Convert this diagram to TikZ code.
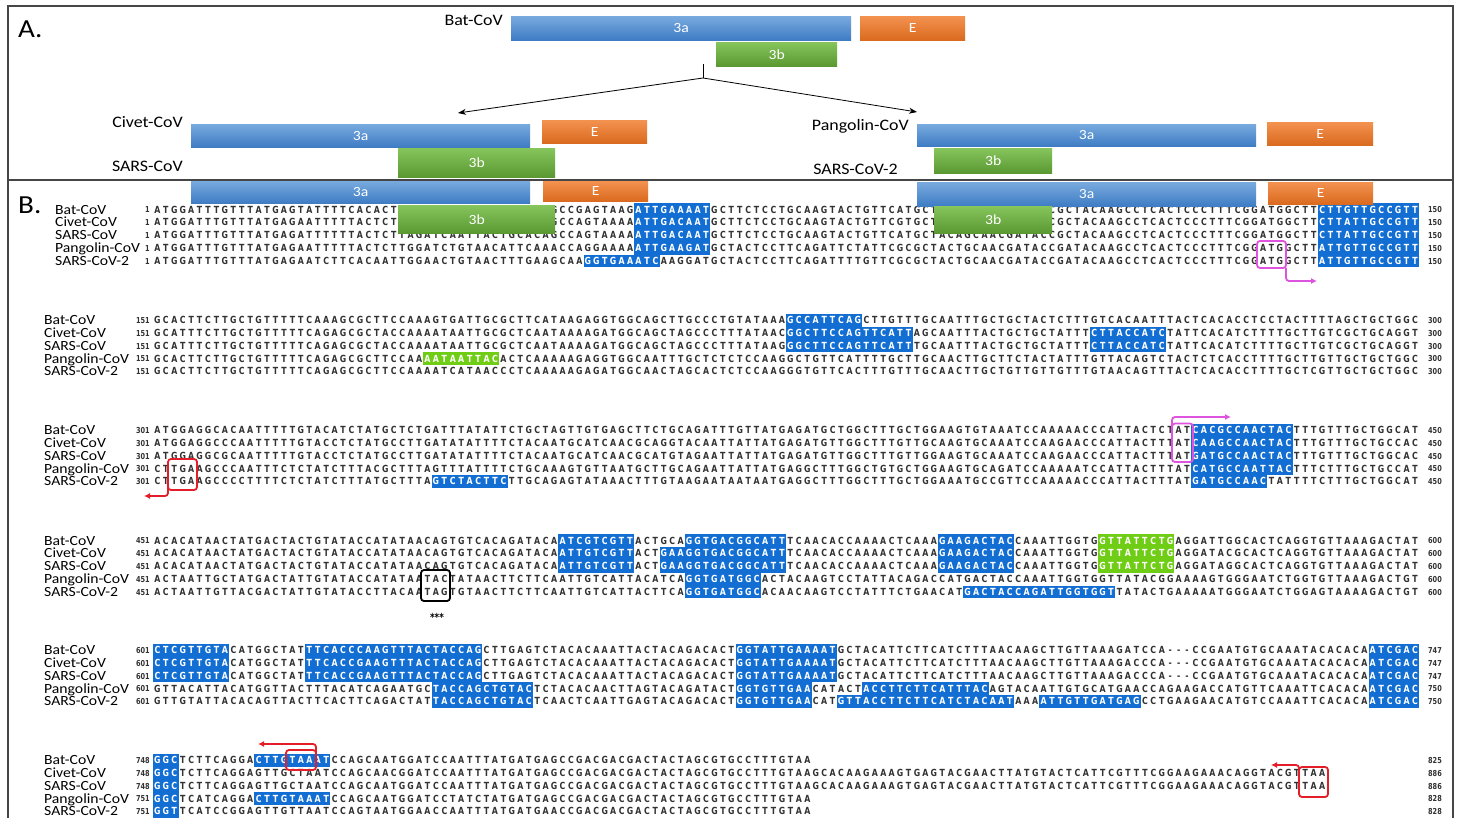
\documentclass[tikz,border=0pt]{standalone}
\usepackage{fontspec}
\setmainfont{Carlito}
\newfontfamily\seqfont[FakeStretch=0.8]{DejaVu Sans}
\newfontfamily\labfont[FakeStretch=1.12]{Carlito}
\usetikzlibrary{arrows.meta}

\definecolor{seqblue}{RGB}{18,110,210}
\definecolor{seqgreen}{RGB}{110,205,20}
\definecolor{seqtext}{RGB}{50,50,50}
\definecolor{barblueT}{RGB}{120,170,222}
\definecolor{barblueB}{RGB}{62,124,196}
\definecolor{barorT}{RGB}{243,146,80}
\definecolor{barorB}{RGB}{218,106,30}
\definecolor{bargrT}{RGB}{134,196,92}
\definecolor{bargrB}{RGB}{90,152,50}
\definecolor{redmk}{RGB}{228,30,40}
\definecolor{magmk}{RGB}{222,84,222}
\definecolor{framecol}{RGB}{70,70,70}

% one character per fixed-width cell
\newlength\seqpitch
\setlength\seqpitch{8.44pt}
\def\seqloop#1{\ifx\relax#1\else\makebox[\seqpitch][c]{#1}\expandafter\seqloop\fi}
\newcommand\seqchars[1]{\seqloop#1\relax}
\newcommand\sqp[1]{\seqchars{#1}}
\newcommand\sqb[1]{{\setlength\fboxsep{0pt}\colorbox{seqblue}{\rule[-3.0pt]{0pt}{12.8pt}\color{white}\seqchars{#1}}}}
\newcommand\sqg[1]{{\setlength\fboxsep{0pt}\colorbox{seqgreen}{\rule[-3.0pt]{0pt}{12.8pt}\color{white}\seqchars{#1}}}}

\def\labx{44}
% name, y centre, label, first number, last number, residues
\newcommand\seqrow[6]{%
  \node[lab, anchor=base west] (#1l) at (\labx,#2+4.6) {#3};
  \node[num, anchor=base east] (#1s) at (150,#2+3.4) {#4};
  \node[seq, anchor=base west] (#1q) at (153,#2+3.6) {#6};
  \node[num, anchor=base east] (#1e) at (1442,#2+3.4) {#5};
}

\tikzset{
  seq/.style={inner sep=0pt, text=seqtext, font=\seqfont\bfseries\fontsize{9.8}{9.8}\selectfont},
  num/.style={inner sep=0pt, text=seqtext, font=\seqfont\bfseries\fontsize{8.2}{8.2}\selectfont},
  lab/.style={inner sep=0pt, text=black, font=\labfont\fontsize{14}{14}\selectfont},
  lbA/.style={inner sep=0pt, text=black, font=\labfont\fontsize{16}{16}\selectfont},
  part/.style={inner sep=0pt, text=black, font=\labfont\fontsize{26}{26}\selectfont},
  bar/.style={anchor=north west, inner sep=0pt, text=white, font=\labfont\fontsize{14}{14}\selectfont},
  b3a/.style={bar, top color=barblueT, bottom color=barblueB},
  bE/.style={bar, top color=barorT, bottom color=barorB},
  b3b/.style={bar, top color=bargrT, bottom color=bargrB},
  conn/.style={draw=black, line width=0.8pt},
  mk/.style={line width=1.8pt, rounded corners=3pt},
  tip/.style={-{Latex[length=6pt,width=6pt]}},
}

\begin{document}
\begin{tikzpicture}[x=1pt,y=-1pt]
\useasboundingbox (0,0) rectangle (1458,818);
\fill[white] (0,0) rectangle (1458,818);

% frame and divider
\draw[framecol, line width=1.2pt] (8,830) -- (8,6) -- (1453,6) -- (1453,830);
\draw[framecol, line width=1.2pt] (8,180) -- (1453,180);

\node[part, anchor=base west] (pA) at (18,38) {A.};
\node[part, anchor=base west] (pB) at (18,214) {B.};

% ---------------- alignment, residues 1-150
\def\labx{55}
\seqrow{a1}{209.5}{Bat-CoV}{1}{150}{\sqp{ATGGATTTGTTTATGAGTATTTTCACACTTAGATCAATTACTGCACAGCCGAGTAAG}\sqb{ATTGAAAAT}\sqp{GCTTCTCCTGCAAGTACTGTTCATGCTACAGCAACGATACCGCTACAAGCCTCACTCCCTTTCGGATGGCTT}\sqb{CTTGTTGCCGTT}}
\seqrow{a2}{222.3}{Civet-CoV}{1}{150}{\sqp{ATGGATTTGTTTATGAGAATTTTTACTCTTAGATCAATTACTGCACAGCCAGTAAAA}\sqb{ATTGACAAT}\sqp{GCTTCTCCTGCAAGTACTGTTCGTGCTACAGCAACGATACCGCTACAAGCCTCACTCCCTTTCGGATGGCTT}\sqb{CTTATTGCCGTT}}
\seqrow{a3}{235.1}{SARS-CoV}{1}{150}{\sqp{ATGGATTTGTTTATGAGATTTTTTACTCTTAGATCAATTACTGCACAGCCAGTAAAA}\sqb{ATTGACAAT}\sqp{GCTTCTCCTGCAAGTACTGTTCATGCTACAGCAACGATACCGCTACAAGCCTCACTCCCTTTCGGATGGCTT}\sqb{CTTATTGCCGTT}}
\seqrow{a4}{247.9}{Pangolin-CoV}{1}{150}{\sqp{ATGGATTTGTTTATGAGAATTTTTACTCTTGGATCTGTAACATTCAAACCAGGAAAA}\sqb{ATTGAAGAT}\sqp{GCTACTCCTTCAGATTCTATTCGCGCTACTGCAACGATACCGATACAAGCCTCACTCCCTTTCGGATGGCTT}\sqb{ATTGTTGCCGTT}}
\seqrow{a5}{260.7}{SARS-CoV-2}{1}{150}{\sqp{ATGGATTTGTTTATGAGAATCTTCACAATTGGAACTGTAACTTTGAAGCAA}\sqb{GGTGAAATC}\sqp{AAGGATGCTACTCCTTCAGATTTTGTTCGCGCTACTGCAACGATACCGATACAAGCCTCACTCCCTTTCGGATGGCTT}\sqb{ATTGTTGCCGTT}}

% ---------------- residues 151-300
\def\labx{44}
\seqrow{b1}{320}{Bat-CoV}{151}{300}{\sqp{GCACTTCTTGCTGTTTTTCAAAGCGCTTCCAAAGTGATTGCGCTTCATAAGAGGTGGCAGCTTGCCCTGTATAAA}\sqb{GCCATTCAG}\sqp{CTTGTTTGCAATTTGCTGCTACTCTTTGTCACAATTTACTCACACCTCCTACTTTTAGCTGCTGGC}}
\seqrow{b2}{332.8}{Civet-CoV}{151}{300}{\sqp{GCATTTCTTGCTGTTTTTCAGAGCGCTACCAAAATAATTGCGCTCAATAAAAGATGGCAGCTAGCCCTTTATAAC}\sqb{GGCTTCCAGTTCATT}\sqp{AGCAATTTACTGCTGCTATTT}\sqb{CTTACCATC}\sqp{TATTCACATCTTTTGCTTGTCGCTGCAGGT}}
\seqrow{b3}{345.6}{SARS-CoV}{151}{300}{\sqp{GCATTTCTTGCTGTTTTTCAGAGCGCTACCAAAATAATTGCGCTCAATAAAAGATGGCAGCTAGCCCTTTATAAG}\sqb{GGCTTCCAGTTCATT}\sqp{TGCAATTTACTGCTGCTATTT}\sqb{CTTACCATC}\sqp{TATTCACATCTTTTGCTTGTCGCTGCAGGT}}
\seqrow{b4}{358.4}{Pangolin-CoV}{151}{300}{\sqp{GCACTTCTTGCTGTTTTTCAGAGCGCTTCCAA}\sqg{AATAATTAC}\sqp{ACTCAAAAAGAGGTGGCAATTTGCTCTCTCCAAGGCTGTTCATTTTGCTTGCAACTTGCTTCTACTATTTGTTACAGTCTACTCTCACCTTTTGCTTGTTGCTGCTGGC}}
\seqrow{b5}{371.2}{SARS-CoV-2}{151}{300}{\sqp{GCACTTCTTGCTGTTTTTCAGAGCGCTTCCAAAATCATAACCCTCAAAAAGAGATGGCAACTAGCACTCTCCAAGGGTGTTCACTTTGTTTGCAACTTGCTGTTGTTGTTTGTAACAGTTTACTCACACCTTTTGCTCGTTGCTGCTGGC}}

% ---------------- residues 301-450
\seqrow{c1}{430}{Bat-CoV}{301}{450}{\sqp{ATGGAGGCACAATTTTTGTACATCTATGCTCTGATTTATATTCTGCTAGTTGTGAGCTTCTGCAGATTTGTTATGAGATGCTGGCTTTGCTGGAAGTGTAAATCCAAAAACCCATTACTCTAT}\sqb{CACGCCAACTAC}\sqp{TTTGTTTGCTGGCAT}}
\seqrow{c2}{442.8}{Civet-CoV}{301}{450}{\sqp{ATGGAGGCCCAATTTTTGTACCTCTATGCCTTGATATATTTTCTACAATGCATCAACGCAGGTACAATTATTATGAGATGTTGGCTTTGTTGCAAGTGCAAATCCAAGAACCCATTACTTTAT}\sqb{CAAGCCAACTAC}\sqp{TTTGTTTGCTGCCAC}}
\seqrow{c3}{455.6}{SARS-CoV}{301}{450}{\sqp{ATGGAGGCGCAATTTTTGTACCTCTATGCCTTGATATATTTTCTACAATGCATCAACGCATGTAGAATTATTATGAGATGTTGGCTTTGTTGGAAGTGCAAATCCAAGAACCCATTACTTTAT}\sqb{GATGCCAACTAC}\sqp{TTTGTTTGCTGGCAC}}
\seqrow{c4}{468.4}{Pangolin-CoV}{301}{450}{\sqp{CTTGAAGCCCAATTTCTCTATCTTTACGCTTTAGTTTATTTTCTGCAAAGTGTTAATGCTTGCAGAATTATTATGAGGCTTTGGCTGTGCTGGAAGTGCAGATCCAAAAATCCATTACTTTAT}\sqb{CATGCCAATTAC}\sqp{TTTCTTTGCTGCCAT}}
\seqrow{c5}{481.2}{SARS-CoV-2}{301}{450}{\sqp{CTTGAAGCCCCTTTTCTCTATCTTTATGCTTTA}\sqb{GTCTACTTC}\sqp{TTGCAGAGTATAAACTTTGTAAGAATAATAATGAGGCTTTGGCTTTGCTGGAAATGCCGTTCCAAAAACCCATTACTTTAT}\sqb{GATGCCAAC}\sqp{TATTTTCTTTGCTGGCAT}}

% ---------------- residues 451-600
\seqrow{d1}{540.5}{Bat-CoV}{451}{600}{\sqp{ACACATAACTATGACTACTGTATACCATATAACAGTGTCACAGATACA}\sqb{ATCGTCGTT}\sqp{ACTGCA}\sqb{GGTGACGGCATT}\sqp{TCAACACCAAAACTCAAA}\sqb{GAAGACTAC}\sqp{CAAATTGGTG}\sqg{GTTATTCTG}\sqp{AGGATTGGCACTCAGGTGTTAAAGACTAT}}
\seqrow{d2}{553.3}{Civet-CoV}{451}{600}{\sqp{ACACATAACTATGACTACTGTATACCATATAACAGTGTCACAGATACA}\sqb{ATTGTCGTT}\sqp{ACT}\sqb{GAAGGTGACGGCATT}\sqp{TCAACACCAAAACTCAAA}\sqb{GAAGACTAC}\sqp{CAAATTGGTG}\sqg{GTTATTCTG}\sqp{AGGATACGCACTCAGGTGTTAAAGACTAT}}
\seqrow{d3}{566.1}{SARS-CoV}{451}{600}{\sqp{ACACATAACTATGACTACTGTATACCATATAACAGTGTCACAGATACA}\sqb{ATTGTCGTT}\sqp{ACT}\sqb{GAAGGTGACGGCATT}\sqp{TCAACACCAAAACTCAAA}\sqb{GAAGACTAC}\sqp{CAAATTGGTG}\sqg{GTTATTCTG}\sqp{AGGATAGGCACTCAGGTGTTAAAGACTAT}}
\seqrow{d4}{578.9}{Pangolin-CoV}{451}{600}{\sqp{ACTAATTGCTATGACTATTGTATACCATATAATACTATAACTTCTTCAATTGTCATTACATCA}\sqb{GGTGATGGC}\sqp{ACTACAAGTCCTATTACAGACCATGACTACCAAATTGGTGGTTATACGGAAAAGTGGGAATCTGGTGTTAAAGACTGT}}
\seqrow{d5}{591.7}{SARS-CoV-2}{451}{600}{\sqp{ACTAATTGTTACGACTATTGTATACCTTACAATAGTGTAACTTCTTCAATTGTCATTACTTCA}\sqb{GGTGATGGC}\sqp{ACAACAAGTCCTATTTCTGAACAT}\sqb{GACTACCAGATTGGTGGT}\sqp{TATACTGAAAAATGGGAATCTGGAGTAAAAGACTGT}}

% ---------------- residues 601-750
\seqrow{e1}{650}{Bat-CoV}{601}{747}{\sqb{CTCGTTGTA}\sqp{CATGGCTAT}\sqb{TTCACCCAAGTTTACTACCAG}\sqp{CTTGAGTCTACACAAATTACTACAGACACT}\sqb{GGTATTGAAAAT}\sqp{GCTACATTCTTCATCTTTAACAAGCTTGTTAAAGATCCA---CCGAATGTGCAAATACACACA}\sqb{ATCGAC}}
\seqrow{e2}{662.8}{Civet-CoV}{601}{747}{\sqb{CTCGTTGTA}\sqp{CATGGCTAT}\sqb{TTCACCGAAGTTTACTACCAG}\sqp{CTTGAGTCTACACAAATTACTACAGACACT}\sqb{GGTATTGAAAAT}\sqp{GCTACATTCTTCATCTTTAACAAGCTTGTTAAAGACCCA---CCGAATGTGCAAATACACACA}\sqb{ATCGAC}}
\seqrow{e3}{675.6}{SARS-CoV}{601}{747}{\sqb{CTCGTTGTA}\sqp{CATGGCTAT}\sqb{TTCACCGAAGTTTACTACCAG}\sqp{CTTGAGTCTACACAAATTACTACAGACACT}\sqb{GGTATTGAAAAT}\sqp{GCTACATTCTTCATCTTTAACAAGCTTGTTAAAGACCCA---CCGAATGTGCAAATACACACA}\sqb{ATCGAC}}
\seqrow{e4}{688.4}{Pangolin-CoV}{601}{750}{\sqp{GTTACATTACATGGTTACTTTACATCAGAATGC}\sqb{TACCAGCTGTAC}\sqp{TCTACACAACTTAGTACAGATACT}\sqb{GGTGTTGAA}\sqp{CATACT}\sqb{ACCTTCTTCATTTAC}\sqp{AGTACAATTGTGCATGAACCAGAAGACCATGTTCAAATTCACACA}\sqb{ATCGAC}}
\seqrow{e5}{701.2}{SARS-CoV-2}{601}{750}{\sqp{GTTGTATTACACAGTTACTTCACTTCAGACTAT}\sqb{TACCAGCTGTAC}\sqp{TCAACTCAATTGAGTACAGACACT}\sqb{GGTGTTGAA}\sqp{CAT}\sqb{GTTACCTTCTTCATCTACAAT}\sqp{AAA}\sqb{ATTGTTGATGAG}\sqp{CCTGAAGAACATGTCCAAATTCACACA}\sqb{ATCGAC}}

% ---------------- residues 748/751 to the end
\seqrow{f1}{760}{Bat-CoV}{748}{825}{\sqb{GGC}\sqp{TCTTCAGGA}\sqb{CTTGTAAAT}\sqp{CCAGCAATGGATCCAATTTATGATGAGCCGACGACGACTACTAGCGTGCCTTTGTAA}}
\seqrow{f2}{772.8}{Civet-CoV}{748}{886}{\sqb{GGC}\sqp{TCTTCAGGAGTTGCTAATCCAGCAACGGATCCAATTTATGATGAGCCGACGACGACTACTAGCGTGCCTTTGTAAGCACAAGAAAGTGAGTACGAACTTATGTACTCATTCGTTTCGGAAGAAACAGGTACGTTAA}}
\seqrow{f3}{785.6}{SARS-CoV}{748}{886}{\sqb{GGC}\sqp{TCTTCAGGAGTTGCTAATCCAGCAATGGATCCAATTTATGATGAGCCGACGACGACTACTAGCGTGCCTTTGTAAGCACAAGAAAGTGAGTACGAACTTATGTACTCATTCGTTTCGGAAGAAACAGGTACGTTAA}}
\seqrow{f4}{798.4}{Pangolin-CoV}{751}{828}{\sqb{GGC}\sqp{TCATCAGGA}\sqb{CTTGTAAAT}\sqp{CCAGCAATGGATCCTATCTATGATGAGCCGACGACGACTACTAGCGTGCCTTTGTAA}}
\seqrow{f5}{811.2}{SARS-CoV-2}{751}{828}{\sqb{GGT}\sqp{TCATCCGGAGTTGTTAATCCAGTAATGGAACCAATTTATGATGAACCGACGACGACTACTAGCGTGCCTTTGTAA}}

% ---------------- part A: gene bars
\node[lbA, anchor=east] (labBat) at (503,20) {Bat-CoV};
\node[b3a, minimum width=340pt, minimum height=24pt] (bat3a) at (511,16) {3a};
\node[bE, minimum width=105pt, minimum height=24pt] (batE) at (860,16) {E};
\node[b3b, minimum width=121pt, minimum height=24pt] (bat3b) at (716,42) {3b};

\coordinate (forktop) at (703,64);
\coordinate (fork) at (703,78);
\coordinate (civtip) at (458,113);
\coordinate (pantip) at (917,112);
\draw[conn] (forktop) -- (fork);
\draw[conn, -{Stealth[length=8pt,width=6pt]}] (fork) -- (civtip);
\draw[conn, -{Stealth[length=8pt,width=6pt]}] (fork) -- (pantip);

\node[lbA, anchor=east] (labCiv) at (183,122) {Civet-CoV};
\node[b3a, minimum width=339pt, minimum height=23pt] (civ3a) at (191,124) {3a};
\node[bE, minimum width=105pt, minimum height=23pt] (civE) at (542,120) {E};
\node[b3b, minimum width=157pt, minimum height=29pt] (civ3b) at (398,148) {3b};
\node[lbA, anchor=east] (labSars) at (183,166) {SARS-CoV};
\node[b3a, minimum width=339pt, minimum height=22pt] (sars3a) at (191,181) {3a};
\node[bE, minimum width=105pt, minimum height=20pt] (sarsE) at (543,181) {E};
\node[b3b, minimum width=157pt, minimum height=28pt] (sars3b) at (398,205) {3b};

\node[lbA, anchor=east] (labPan) at (909,126) {Pangolin-CoV};
\node[b3a, minimum width=339pt, minimum height=22pt] (pan3a) at (917,124) {3a};
\node[bE, minimum width=106pt, minimum height=23pt] (panE) at (1267,122) {E};
\node[b3b, minimum width=118pt, minimum height=25pt] (pan3b) at (934,148) {3b};
\node[lbA, anchor=east] (labS2) at (898,169) {SARS-CoV-2};
\node[b3a, minimum width=339pt, minimum height=24pt] (s23a) at (917,182) {3a};
\node[bE, minimum width=105pt, minimum height=22pt] (s2E) at (1268,182) {E};
\node[b3b, minimum width=118pt, minimum height=27pt] (s23b) at (934,206) {3b};

% ---------------- codon markers
\draw[magmk, mk] (1257,241) rectangle (1286,268);
\draw[magmk, mk, tip] (1286,268) -- (1286,281) -- (1317,281);
\draw[magmk, mk] (1172,423.5) rectangle (1193,462);
\draw[magmk, mk, tip] (1172,430) -- (1172,417) -- (1231,417);
\draw[redmk, mk] (168,459) rectangle (197,490);
\draw[redmk, mk, tip] (168,480) -- (168,496) -- (144,496);
\draw[black, mk] (421,570) rectangle (450,601);
\node[seq, text=black, font=\seqfont\bfseries\fontsize{11}{11}\selectfont, anchor=center] (stars) at (437,617) {***};
\draw[redmk, mk] (286,750) rectangle (316,770);
\draw[redmk, mk, tip] (316,756) -- (316,744) -- (258,744);
\draw[redmk, mk] (1299,767) rectangle (1328,797);
\draw[redmk, mk, tip] (1299,775) -- (1299,765) -- (1271,765);
\end{tikzpicture}
\end{document}
